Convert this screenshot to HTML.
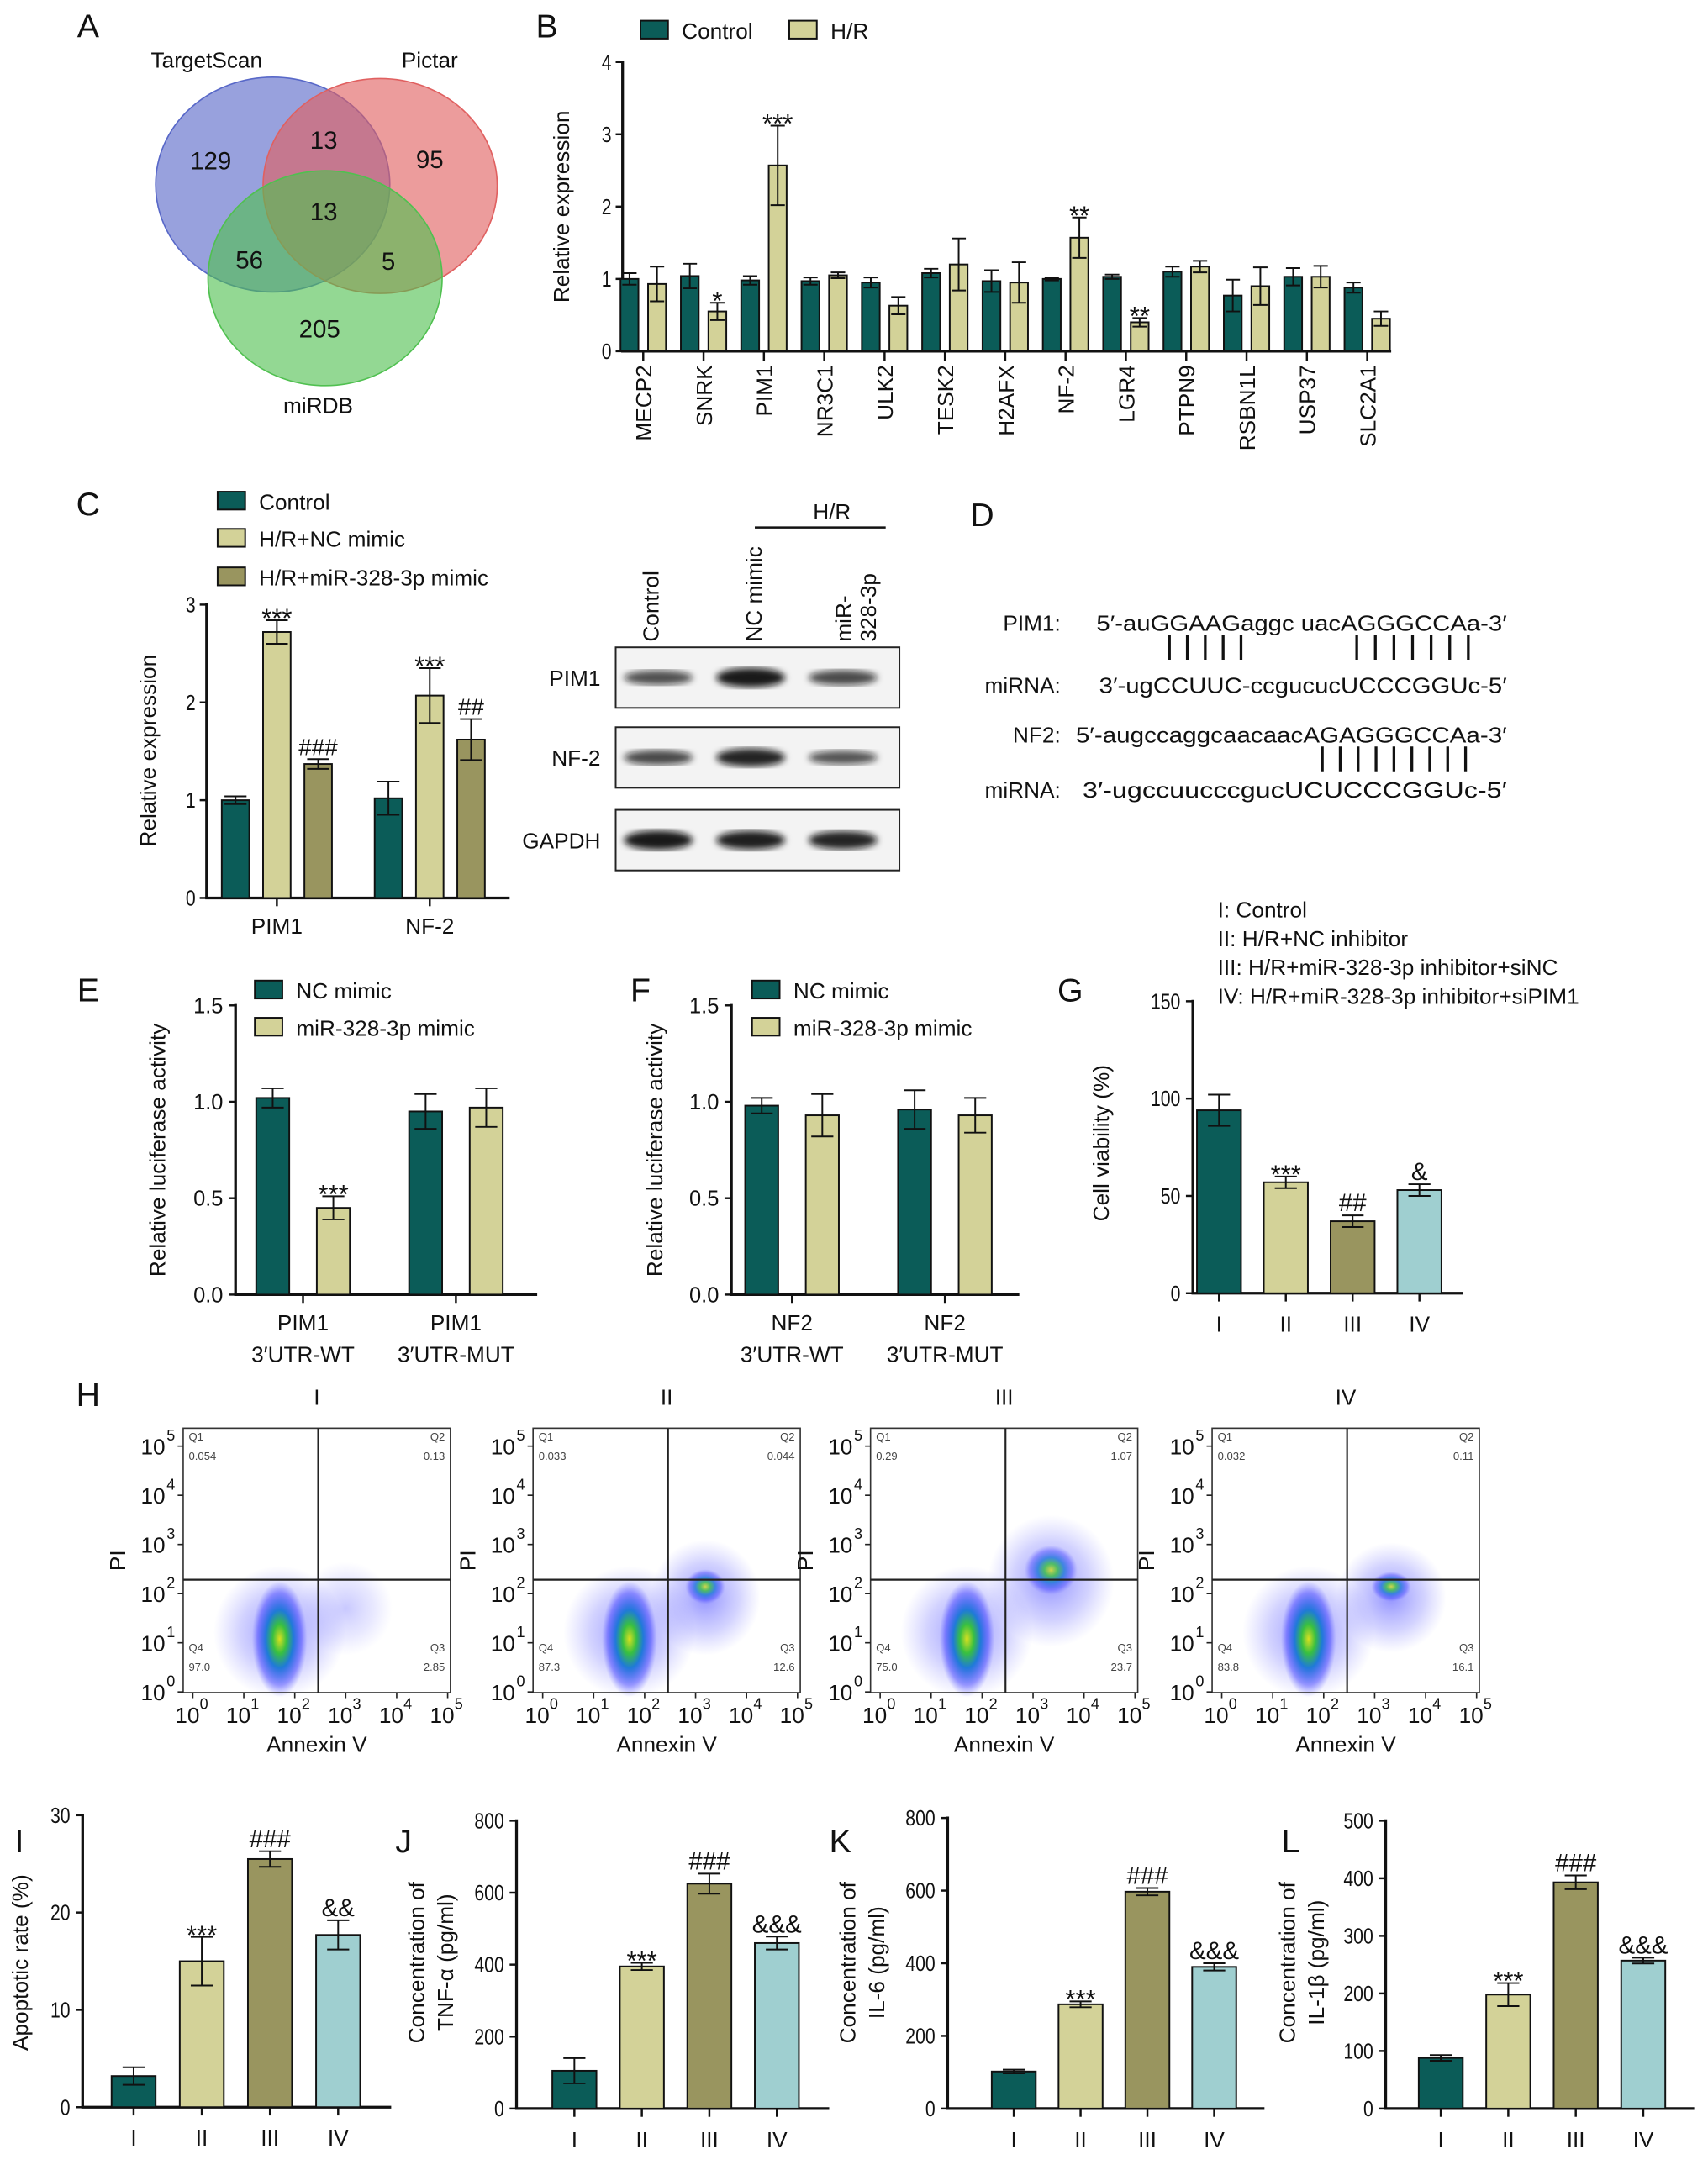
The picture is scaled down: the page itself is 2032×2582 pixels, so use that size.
<!DOCTYPE html>
<html><head><meta charset="utf-8"><style>
html,body{margin:0;padding:0;background:#fff}
svg{display:block;font-family:"Liberation Sans",Arial,sans-serif}
</style></head><body>
<svg id="fig" width="2032" height="2582" viewBox="0 0 1240 1575.6" xmlns="http://www.w3.org/2000/svg">
<defs>
<radialGradient id="dens" cx="50%" cy="50%" r="50%">
<stop offset="0" stop-color="#d8e020"/><stop offset="0.25" stop-color="#38c040"/><stop offset="0.5" stop-color="#1f7ad8"/><stop offset="0.8" stop-color="#4040ff" stop-opacity="0.5"/><stop offset="1" stop-color="#6060ff" stop-opacity="0"/>
</radialGradient>
<radialGradient id="halo" cx="50%" cy="50%" r="50%">
<stop offset="0" stop-color="#4a4aff" stop-opacity="0.6"/><stop offset="0.6" stop-color="#6a6aff" stop-opacity="0.3"/><stop offset="1" stop-color="#8080ff" stop-opacity="0"/>
</radialGradient>
<filter id="blur"><feGaussianBlur stdDeviation="2.5"/></filter>
</defs>
</svg>
<script>
// ---------- data ----------
const bCats=["MECP2","SNRK","PIM1","NR3C1","ULK2","TESK2","H2AFX","NF-2","LGR4","PTPN9","RSBN1L","USP37","SLC2A1"];
const bControl=[1.0,1.04,0.98,0.97,0.95,1.08,0.97,1.0,1.03,1.1,0.77,1.03,0.88];
const bControlErr=[0.08,0.17,0.06,0.05,0.07,0.06,0.15,0.02,0.03,0.07,0.22,0.12,0.07];
const bHR=[0.93,0.55,2.57,1.05,0.63,1.2,0.95,1.57,0.4,1.17,0.9,1.03,0.45];
const bHRErr=[0.24,0.12,0.55,0.04,0.12,0.36,0.28,0.28,0.06,0.08,0.26,0.15,0.1];
const bSig=["","*","***","","","","","**","**","","","",""];
const bTicks=[0,1,2,3,4];

const cCats=["PIM1","NF-2"];
const cControl=[1.0,1.02], cControlErr=[0.04,0.17];
const cNC=[2.72,2.07], cNCErr=[0.12,0.28];
const cMiR=[1.37,1.62], cMiRErr=[0.05,0.21];
const cNCSig=["***","***"], cMiRSig=["###","##"];
const cTicks=[0,1,2,3];

const eNC=[1.02,0.95], eNCErr=[0.05,0.09];
const eMimic=[0.45,0.97], eMimicErr=[0.06,0.1];
const eSig=["***",""];
const fNC=[0.98,0.96], fNCErr=[0.04,0.1];
const fMimic=[0.93,0.93], fMimicErr=[0.11,0.09];
const lucTicks=[0.0,0.5,1.0,1.5];

const groups=["I","II","III","IV"];
const gVal=[94,57,37,53], gErr=[8,3,3,3], gSig=["","***","##","&"], gTicks=[0,50,100,150];
const iVal=[3.2,15,25.5,17.7], iErr=[0.9,2.5,0.8,1.5], iSig=["","***","###","&&"], iTicks=[0,10,20,30];
const jVal=[105,395,625,460], jErr=[35,10,28,18], jSig=["","***","###","&&&"], jTicks=[0,200,400,600,800];
const kVal=[102,287,597,390], kErr=[5,8,10,10], kSig=["","***","###","&&&"], kTicks=[0,200,400,600,800];
const lVal=[88,198,393,257], lErr=[5,20,12,5], lSig=["","***","###","&&&"], lTicks=[0,100,200,300,400,500];

const flowQ1=["0.054","0.033","0.29","0.032"];
const flowQ2=["0.13","0.044","1.07","0.11"];
const flowQ3=["2.85","12.6","23.7","16.1"];
const flowQ4=["97.0","87.3","75.0","83.8"];

const C1="#0b5c58",C2="#d3d298",C3="#99955f",C4="#9fcfd0";
const grpColors=[C1,C2,C3,C4];
// ---------- helpers ----------
const NS="http://www.w3.org/2000/svg";
const svg=document.getElementById('fig');
function mk(tag,attrs,parent){const e=document.createElementNS(NS,tag);for(const k in attrs)e.setAttribute(k,attrs[k]);(parent||svg).appendChild(e);return e;}
function txt(x,y,s,size,anchor,parent,extra){const t=mk('text',Object.assign({x:x,y:y,'font-size':size,'text-anchor':anchor||'start',fill:'#111'},extra||{}),parent);t.textContent=s;return t;}
function group(name){const g=mk('g',{});return g;}

function axes(g,ax,y0,yTop,xEnd,ticks,max,labelX,fmt){
  const ys=v=>y0-(v/max)*(y0-yTop);
  const l=mk('line',{x1:ax,y1:yTop-1,x2:ax,y2:y0,stroke:'#111','stroke-width':2},g);
  
  const l2=mk('line',{x1:ax-1,y1:y0,x2:xEnd,y2:y0,stroke:'#111','stroke-width':2},g);
  
  ticks.forEach(v=>{mk('line',{x1:ax-5,y1:ys(v),x2:ax,y2:ys(v),stroke:'#111','stroke-width':1.5},g);
    const s=fmt?fmt(v):String(v);
    const t=txt(labelX+4,ys(v)+5.5,s,16,'end',g,{textLength:s.length*7.2,lengthAdjust:'spacingAndGlyphs'});
    });
  return ys;
}
function bar(g,cx,w,v,e,ys,y0,color,name){
  const r=mk('rect',{x:cx-w/2,y:ys(v),width:w,height:y0-ys(v),fill:color,stroke:'#111','stroke-width':1.2},g);
  
  const cap=Math.min(8,w*0.4);
  mk('path',{d:`M${cx},${ys(v+e)}V${ys(Math.max(0,v-e))}M${cx-cap},${ys(v+e)}H${cx+cap}M${cx-cap},${ys(Math.max(0,v-e))}H${cx+cap}`,stroke:'#111','stroke-width':1.2,fill:'none'},g);
}
function sig(g,cx,v,e,ys,s,size){if(!s)return;const isStar=s.indexOf('*')>=0;
  const t=txt(cx,ys(v+e)-(isStar?-5:3),s,isStar?19:size||17,'middle',g);
  }
function ylabel(g,x,y,s,size){const t=txt(x,y,s,size||16,'middle',g,{transform:`rotate(-90 ${x} ${y})`});return t;}
function panelLetter(x,y,s){const t=txt(x,y,s,24,'middle');}
function legendSq(g,x,y,color,label,name){const r=mk('rect',{x:x,y:y-7,width:20,height:13,fill:color,stroke:'#111','stroke-width':1.2},g);
  
  const t=txt(x+30,y+6,label,16,'start',g);}

// ---------- panel letters ----------
[["A",64,27],["B",397,27],["C",64,374],["D",713,382],["E",64,727],["F",465,727],["G",777,727],["H",64,1021],["I",14,1345],["J",293,1345],["K",610,1345],["L",937,1345]].forEach(a=>panelLetter(a[1],a[2],a[0]));

// ---------- A venn ----------
(function(){const g=group('venn-diagram');
  const c=[["targetscan-set",198,134,'#5868c8'],["pictar-set",276,135,'#e06060'],["mirdb-set",236,202,'#50c050']];
  c.forEach(d=>{const e=mk('ellipse',{cx:d[1],cy:d[2],rx:85,ry:78,fill:d[3],'fill-opacity':0.62,stroke:d[3],'stroke-width':1},g);});
  [["129",153,123],["13",235,108],["95",312,122],["13",235,160],["56",181,195],["5",282,196],["205",232,245]].forEach(n=>{const t=txt(n[1],n[2],n[0],18,'middle',g);});
  [["TargetScan",150,49],["Pictar",312,49],["miRDB",231,300]].forEach(n=>{const t=txt(n[1],n[2],n[0],16,'middle',g);});
})();

// ---------- B ----------
(function(){const g=group('panel-b-chart');
  const y0=255,ys=axes(g,452,y0,45,1010,bTicks,4,440);
  const xs=i=>467+i*43.8;
  bCats.forEach((c,i)=>{bar(g,xs(i)-10,13,bControl[i],bControlErr[i],ys,y0,C1,'bar-control-'+c);
    bar(g,xs(i)+10,13,bHR[i],bHRErr[i],ys,y0,C2,'bar-hr-'+c);
    sig(g,xs(i)+10,bHR[i],bHRErr[i],ys,bSig[i]);
    mk('line',{x1:xs(i),y1:y0,x2:xs(i),y2:y0+7,stroke:'#111','stroke-width':1.5},g);
    const t=txt(xs(i)+6,265,c,16,'end',g,{transform:`rotate(-90 ${xs(i)+6} 265)`});});
  ylabel(g,413,150,'Relative expression');
  legendSq(g,465,22,C1,'Control','legend-control');legendSq(g,573,22,C2,'H/R','legend-hr');
})();

// ---------- C ----------
(function(){const g=group('panel-c-chart');
  const y0=652,ys=axes(g,150,y0,439,370,cTicks,3,138);
  const xs=i=>201+i*111;
  cCats.forEach((c,i)=>{bar(g,xs(i)-30,20,cControl[i],cControlErr[i],ys,y0,C1,'bar-control-'+c);
    bar(g,xs(i),20,cNC[i],cNCErr[i],ys,y0,C2,'bar-nc-mimic-'+c);
    bar(g,xs(i)+30,20,cMiR[i],cMiRErr[i],ys,y0,C3,'bar-mir-mimic-'+c);
    sig(g,xs(i),cNC[i],cNCErr[i],ys,cNCSig[i]);sig(g,xs(i)+30,cMiR[i],cMiRErr[i],ys,cMiRSig[i]);
    mk('line',{x1:xs(i),y1:y0,x2:xs(i),y2:y0+6,stroke:'#111','stroke-width':1.5},g);
    const t=txt(xs(i),678,c,16,'middle',g);});
  ylabel(g,113,545,'Relative expression');
  legendSq(g,158,364,C1,'Control','legend-control');legendSq(g,158,391,C2,'H/R+NC mimic','legend-nc-mimic');legendSq(g,158,419,C3,'H/R+miR-328-3p mimic','legend-mir-mimic');
})();

// ---------- C western blot ----------
(function(){const g=group('western-blot');
  const rows=[["PIM1",470,[0.55,1,0.6]],["NF-2",528,[0.6,0.9,0.5]],["GAPDH",588,[1,0.95,0.9]]];
  const lanes=[478,545,612];
  rows.forEach(r=>{const b=mk('rect',{x:447,y:r[1],width:206,height:44,fill:'#f3f3f3',stroke:'#222','stroke-width':1.2},g);
    lanes.forEach((x,j)=>{mk('ellipse',{cx:x,cy:r[1]+22,rx:25,ry:3+4*r[2][j],fill:'#111','fill-opacity':0.45+0.5*r[2][j],filter:'url(#blur)'},g);});
    const t=txt(436,r[1]+28,r[0],16,'end',g);});
  [["Control",478],["NC mimic",553]].forEach(c=>{const t=txt(c[1],466,c[0],16,'start',g,{transform:`rotate(-90 ${c[1]} 466)`});});
  const t1=txt(618,466,'miR-',16,'start',g,{transform:'rotate(-90 618 466)'});
  const t2=txt(636,466,'328-3p',16,'start',g,{transform:'rotate(-90 636 466)'});
  mk('line',{x1:548,y1:383,x2:643,y2:383,stroke:'#111','stroke-width':1.5},g);
  const h=txt(604,377,'H/R',16,'middle',g);
})();

// ---------- D ----------
(function(){const g=group('panel-d-binding');
  const lines=[["PIM1:",458,"5′-auGGAAGaggc uacAGGGCCAa-3′",796],["miRNA:",503,"3′-ugCCUUC-ccgucucUCCCGGUc-5′",798],["NF2:",539,"5′-augccaggcaacaacAGAGGGCCAa-3′",781],["miRNA:",579,"3′-ugccuucccgucUCUCCCGGUc-5′",786]];
  lines.forEach(l=>{const a=txt(770,l[1],l[0],16,'end',g);
    const b=txt(l[3],l[1],l[2],16,'start',g,{textLength:1094-l[3],lengthAdjust:'spacingAndGlyphs'});});
  let d='';
  for(let i=0;i<5;i++)d+=`M${849+i*13},461V479`;
  for(let i=0;i<7;i++)d+=`M${985+i*13.5},461V479`;
  for(let i=0;i<9;i++)d+=`M${960+i*13},542V560`;
  const p=mk('path',{d:d,stroke:'#111','stroke-width':2},g);
})();

// ---------- E / F ----------
function lucPanel(name,ax,xEnd,c0,step,nc,ncE,mm,mmE,sigs,labels,legX,ylx){
  const g=group(name);const y0=940,ys=axes(g,ax,y0,730,xEnd,lucTicks,1.5,ax-13,v=>v.toFixed(1));
  for(let i=0;i<2;i++){const cx=c0+i*step;
    bar(g,cx-22,24,nc[i],ncE[i],ys,y0,C1,'bar-nc-mimic');bar(g,cx+22,24,mm[i],mmE[i],ys,y0,C2,'bar-mir-mimic');
    sig(g,cx+22,mm[i],mmE[i],ys,sigs[i]);
    mk('line',{x1:cx,y1:y0,x2:cx,y2:y0+6,stroke:'#111','stroke-width':1.5},g);
    const a=txt(cx,966,labels[i][0],16,'middle',g);
    const b=txt(cx,989,labels[i][1],16,'middle',g);}
  ylabel(g,ylx,835,'Relative luciferase activity');
  legendSq(g,legX,719,C1,'NC mimic','legend-nc-mimic');legendSq(g,legX,746,C2,'miR-328-3p mimic','legend-mir-mimic');
}
lucPanel('panel-e-chart',171,390,220,111,eNC,eNCErr,eMimic,eMimicErr,eSig,[["PIM1","3′UTR-WT"],["PIM1","3′UTR-MUT"]],185,120);
lucPanel('panel-f-chart',531,740,575,111,fNC,fNCErr,fMimic,fMimicErr,["",""],[["NF2","3′UTR-WT"],["NF2","3′UTR-MUT"]],546,481);

// ---------- group bar charts ----------
function grpPanel(name,ax,y0,yTop,xEnd,c0,step,w,vals,errs,sigs,ticks,max,ylab){
  const g=group(name);const ys=axes(g,ax,y0,yTop,xEnd,ticks,max,ax-13);
  groups.forEach((gr,i)=>{const cx=c0+i*step;bar(g,cx,w,vals[i],errs[i],ys,y0,grpColors[i],'bar-group-'+gr);
    sig(g,cx,vals[i],errs[i],ys,sigs[i],18);
    mk('line',{x1:cx,y1:y0,x2:cx,y2:y0+6,stroke:'#111','stroke-width':1.5},g);
    const t=txt(cx,y0+28,gr,16,'middle',g);});
  ylab.forEach(l=>ylabel(g,l[0],l[1],l[2]));
}
grpPanel('panel-g-chart',866,939,727,1062,885,48.5,32,gVal,gErr,gSig,gTicks,150,[[805,830,'Cell viability (%)']]);
grpPanel('panel-i-chart',60,1530,1318,284,97,49.5,32,iVal,iErr,iSig,iTicks,30,[[20,1425,'Apoptotic rate (%)']]);
grpPanel('panel-j-chart',375,1531,1322,602,417,49,32,jVal,jErr,jSig,jTicks,800,[[308,1425,'Concentration of'],[329,1425,'TNF-α (pg/ml)']]);
grpPanel('panel-k-chart',688,1531,1320,918,736,48.5,32,kVal,kErr,kSig,kTicks,800,[[621,1425,'Concentration of'],[642,1425,'IL-6 (pg/ml)']]);
grpPanel('panel-l-chart',1006,1531,1322,1230,1046,49,32,lVal,lErr,lSig,lTicks,500,[[940,1425,'Concentration of'],[961,1425,'IL-1β (pg/ml)']]);
(function(){const g=group('panel-g-legend');["I: Control","II: H/R+NC inhibitor","III: H/R+miR-328-3p inhibitor+siNC","IV: H/R+miR-328-3p inhibitor+siPIM1"].forEach((s,i)=>{const t=txt(884,666+i*21,s,16,'start',g);});})();

// ---------- H flow plots ----------
(function(){
  const lefts=[133,387,632,880];
  const second=[[0,0,0,0],[125,1152,18,14],[131,1140,24,20],[130,1152,18,12]];
  lefts.forEach((L,p)=>{const g=group('flow-plot-'+groups[p]);
    const top=1037,w=194,h=192,vx=L+98,hy=1147;
    const tt=txt(L+w/2,1020,groups[p],16,'middle',g);
    mk('ellipse',{cx:L+70,cy:1185,rx:48,ry:48,fill:'url(#halo)'},g);
    if(p>0){const s=second[p];mk('ellipse',{cx:L+s[0],cy:s[1]+8,rx:s[2]+22,ry:s[3]+28,fill:'url(#halo)'},g);mk('ellipse',{cx:L+s[0],cy:s[1],rx:s[2]*0.8,ry:s[3]*0.9,fill:'url(#dens)','fill-opacity':0.8},g);}
    else {mk('ellipse',{cx:L+118,cy:1168,rx:34,ry:34,fill:'url(#halo)','fill-opacity':0.5},g);}
    const core=mk('ellipse',{cx:L+70,cy:1190,rx:20,ry:42,fill:'url(#dens)'},g);
    const fr=mk('rect',{x:L,y:top,width:w,height:h,fill:'none',stroke:'#333','stroke-width':1},g);
    const gt=mk('path',{d:`M${vx},${top}V${top+h}M${L},${hy}H${L+w}`,stroke:'#222','stroke-width':1.3},g);
    [["Q1",L+4,1046,'start'],[flowQ1[p],L+4,1060,'start'],["Q2",L+w-4,1046,'end'],[flowQ2[p],L+w-4,1060,'end'],["Q4",L+4,1199,'start'],[flowQ4[p],L+4,1213,'start'],["Q3",L+w-4,1199,'end'],[flowQ3[p],L+w-4,1213,'end']].forEach(q=>{const t=txt(q[1],q[2],q[0],8,q[3],g,{fill:'#444'});});
    for(let k=0;k<6;k++){const y=1228.5-k*35.7;mk('line',{x1:L-4,y1:y,x2:L,y2:y,stroke:'#222'},g);
      const t=txt(L-13,y+6,'10',16,'end',g);
      txt(L-12,y-4,String(k),11,'start',g);
      const x=L+7+k*37;mk('line',{x1:x,y1:top+h,x2:x,y2:top+h+4,stroke:'#222'},g);
      const u=txt(x-4,1251,'10',16,'middle',g);
      txt(x+5,1241,String(k),11,'start',g);}
    ylabel(g,L-42,1133,'PI');
    const xl=txt(L+w/2,1272,'Annexin V',16,'middle',g);
  });
})();
</script>
</body></html>
